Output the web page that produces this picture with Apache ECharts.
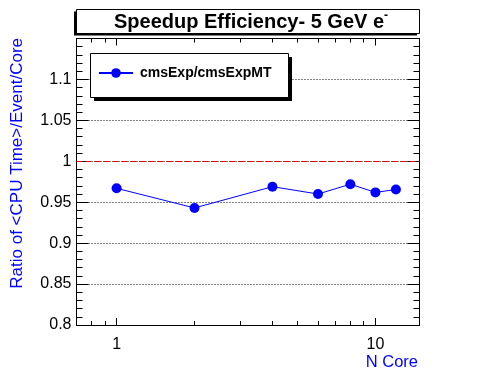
<!DOCTYPE html>
<html>
<head>
<meta charset="utf-8">
<script src="https://cdn.jsdelivr.net/npm/echarts@6/dist/echarts.min.js"></script>
<style>html,body{margin:0;padding:0;background:#fff;}#c{width:496px;height:372px;}</style>
</head>
<body>
<div id="c"></div>
<script>
// ---- data ----
const nCores = [1, 2, 4, 6, 8, 10, 12];
const ratioValues = [0.967, 0.943, 0.969, 0.960, 0.972, 0.962, 0.9655];
const seriesName = 'cmsExp/cmsExpMT';
const xMajorTicks = [1, 10];
const xMinorTicks = [0.8, 0.9, 2, 3, 4, 5, 6, 7, 8, 9];
const referenceLine = [1];
const titleText = 'Speedup Efficiency- 5 GeV e';
const xTitle = 'N Core';
const yTitle = 'Ratio of <CPU Time>/Event/Core';

const FONT = '"Liberation Sans", Arial, sans-serif';
const gridRect = {left: 76.5, right: 76.5, top: 38.5, bottom: 47};
const xMin = 0.7, xMax = 14.8;

function xAx(grid, pos, ticks, len, labels, line) {
  return {
    gridIndex: grid, type: 'log', logBase: 10, min: xMin, max: xMax, position: pos,
    axisLine: {show: line, lineStyle: {color: '#000', width: 1}},
    axisTick: {show: true, inside: true, length: len, customValues: ticks, lineStyle: {color: '#000', width: 1}},
    axisLabel: labels ? {show: true, customValues: ticks, fontSize: 16, color: '#000', margin: 12, fontFamily: FONT} : {show: false},
    splitLine: {show: false}, minorTick: {show: false}, minorSplitLine: {show: false}
  };
}
function yAx(pos, labels, split) {
  return {
    gridIndex: 0, type: 'value', min: 0.8, max: 1.15, interval: 0.05, position: pos,
    axisLine: {show: true, lineStyle: {color: '#000', width: 1}},
    axisTick: {show: true, inside: true, length: 12, lineStyle: {color: '#000', width: 1}},
    minorTick: {show: true, splitNumber: 5, length: 6, lineStyle: {color: '#000', width: 1}},
    axisLabel: labels ? {show: true, fontSize: 16, color: '#000', margin: 5, fontFamily: FONT,
      formatter: v => (v > 1.12 ? '' : String(+v.toFixed(2)))} : {show: false},
    splitLine: split ? {show: true, lineStyle: {color: '#000', width: 1, type: [1, 2]}} : {show: false}
  };
}

const chart = echarts.init(document.getElementById('c'), null, {renderer: 'canvas'});
chart.setOption({
  animation: false,
  backgroundColor: '#fff',
  grid: [Object.assign({}, gridRect), Object.assign({}, gridRect)],
  xAxis: [
    xAx(0, 'bottom', xMajorTicks, 7, true, true),
    xAx(0, 'top', xMajorTicks, 7, false, true),
    xAx(1, 'bottom', xMinorTicks, 4, false, false),
    xAx(1, 'top', xMinorTicks, 4, false, false)
  ],
  yAxis: [
    yAx('left', true, true),
    yAx('right', false, false),
    {gridIndex: 1, type: 'value', min: 0.8, max: 1.15, show: false}
  ],
  legend: {
    show: true, z: 100, left: 98, top: 66, padding: 0, itemWidth: 34, itemHeight: 12,
    textStyle: {fontSize: 14, fontWeight: 'bold', color: '#000', fontFamily: FONT, padding: [0, 0, 0, 2]},
    data: [seriesName]
  },
  series: [{
    name: seriesName, type: 'line', xAxisIndex: 0, yAxisIndex: 0,
    data: nCores.map((n, i) => [n, ratioValues[i]]),
    symbol: 'circle', symbolSize: 10,
    itemStyle: {color: '#0000ff'},
    lineStyle: {color: '#0000ff', width: 1},
    z: 3,
    markLine: {
      silent: true, symbol: 'none', label: {show: false},
      lineStyle: {color: '#e00000', width: 1, type: [6, 3]},
      data: referenceLine.map(v => ({yAxis: v}))
    }
  }],
  graphic: {elements: [
    {type: 'rect', z: 50, shape: {x: 74, y: 11.5, width: 343, height: 24}, style: {fill: '#000'}},
    {type: 'rect', z: 51, shape: {x: 76.5, y: 9.5, width: 343, height: 24}, style: {fill: '#fff', stroke: '#000', lineWidth: 1}},
    {type: 'text', z: 52, x: 251, y: 22, style: {
      text: '{a|' + titleText + '}{b|-}', align: 'center', verticalAlign: 'middle',
      rich: {a: {fontSize: 20, fontWeight: 'bold', fontFamily: FONT, fill: '#000'},
             b: {fontSize: 12, fontWeight: 'bold', fontFamily: FONT, fill: '#000', padding: [0, 0, 12, 0]}}
    }},
    {type: 'rect', z: 50, shape: {x: 94, y: 57, width: 198, height: 44}, style: {fill: '#000'}},
    {type: 'rect', z: 51, shape: {x: 90.5, y: 53.5, width: 198, height: 44}, style: {fill: '#fff', stroke: '#000', lineWidth: 1}},
    {type: 'text', z: 52, x: 418, y: 362, style: {text: xTitle, align: 'right', verticalAlign: 'middle',
      fontSize: 16.5, fontFamily: FONT, fill: '#0000ff'}},
    {type: 'text', z: 52, x: 17, y: 38, rotation: Math.PI / 2, style: {text: yTitle, align: 'right', verticalAlign: 'middle',
      fontSize: 17, fontFamily: FONT, fill: '#0000ff'}}
  ]}
});
</script>
</body>
</html>
